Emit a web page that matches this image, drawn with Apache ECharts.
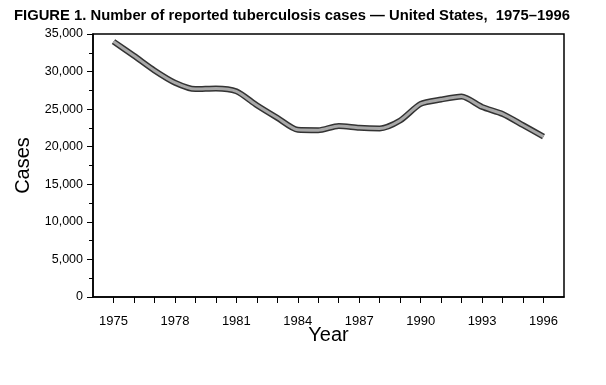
<!DOCTYPE html>
<html><head><meta charset="utf-8">
<script src="https://cdn.jsdelivr.net/npm/echarts@6/dist/echarts.min.js"></script>
<style>html,body{margin:0;padding:0;background:#fff}#c{width:606px;height:385px}</style>
</head><body><div id="c"></div>
<script>
const years = [1975,1976,1977,1978,1979,1980,1981,1982,1983,1984,1985,1986,1987,1988,1989,1990,1991,1992,1993,1994,1995,1996];
const cases = [33989,32105,30145,28521,27669,27749,27373,25520,23846,22255,22201,22768,22517,22436,23495,25701,26283,26673,25287,24361,22860,21337];
const xTickLabels = [1975,1978,1981,1984,1987,1990,1993,1996];
const titleText = 'FIGURE 1. Number of reported tuberculosis cases \u2014 United States,  1975\u20131996';

const pts = years.map((y,i)=>[y,cases[i]]);
const chart = echarts.init(document.getElementById('c'), null, {renderer:'canvas'});
chart.setOption({
  animation:false,
  backgroundColor:'#fff',
  title:{text:titleText,left:9,top:3,textStyle:{fontFamily:'Liberation Sans',fontSize:14.8,fontWeight:'bold',color:'#000'}},
  grid:{left:93,right:42,top:34,bottom:88,show:true,borderColor:'#000',borderWidth:1.5,backgroundColor:'transparent'},
  xAxis:{type:'value',min:1974,max:1997,interval:1,
    name:'Year',nameLocation:'middle',nameGap:28,nameMoveOverlap:false,
    nameTextStyle:{fontFamily:'Liberation Sans',fontSize:20,color:'#000'},
    axisLine:{show:true,lineStyle:{color:'#000',width:1.5}},
    axisTick:{show:true,length:6,lineStyle:{color:'#000'},customValues:years},
    axisLabel:{fontFamily:'Liberation Sans',fontSize:13,color:'#000',margin:18,customValues:xTickLabels,formatter:v=>String(v)},
    splitLine:{show:false}},
  yAxis:{type:'value',min:0,max:35000,interval:5000,
    name:'Cases',nameLocation:'middle',nameGap:60,
    nameTextStyle:{fontFamily:'Liberation Sans',fontSize:20,color:'#000'},
    axisLine:{show:true,lineStyle:{color:'#000',width:1.5}},
    axisTick:{show:true,length:6,lineStyle:{color:'#000'}},
    minorTick:{show:true,splitNumber:2,length:4,lineStyle:{color:'#000'}},
    axisLabel:{fontFamily:'Liberation Sans',fontSize:12.5,color:'#000',margin:10,formatter:v=>v.toLocaleString('en-US')},
    splitLine:{show:false}},
  series:[
    {type:'line',data:pts,smooth:0.25,symbol:'none',lineStyle:{color:'#333',width:6},z:2},
    {type:'line',data:pts,smooth:0.25,symbol:'none',lineStyle:{color:'#a8a8a8',width:3},z:3}
  ]
});
</script></body></html>
